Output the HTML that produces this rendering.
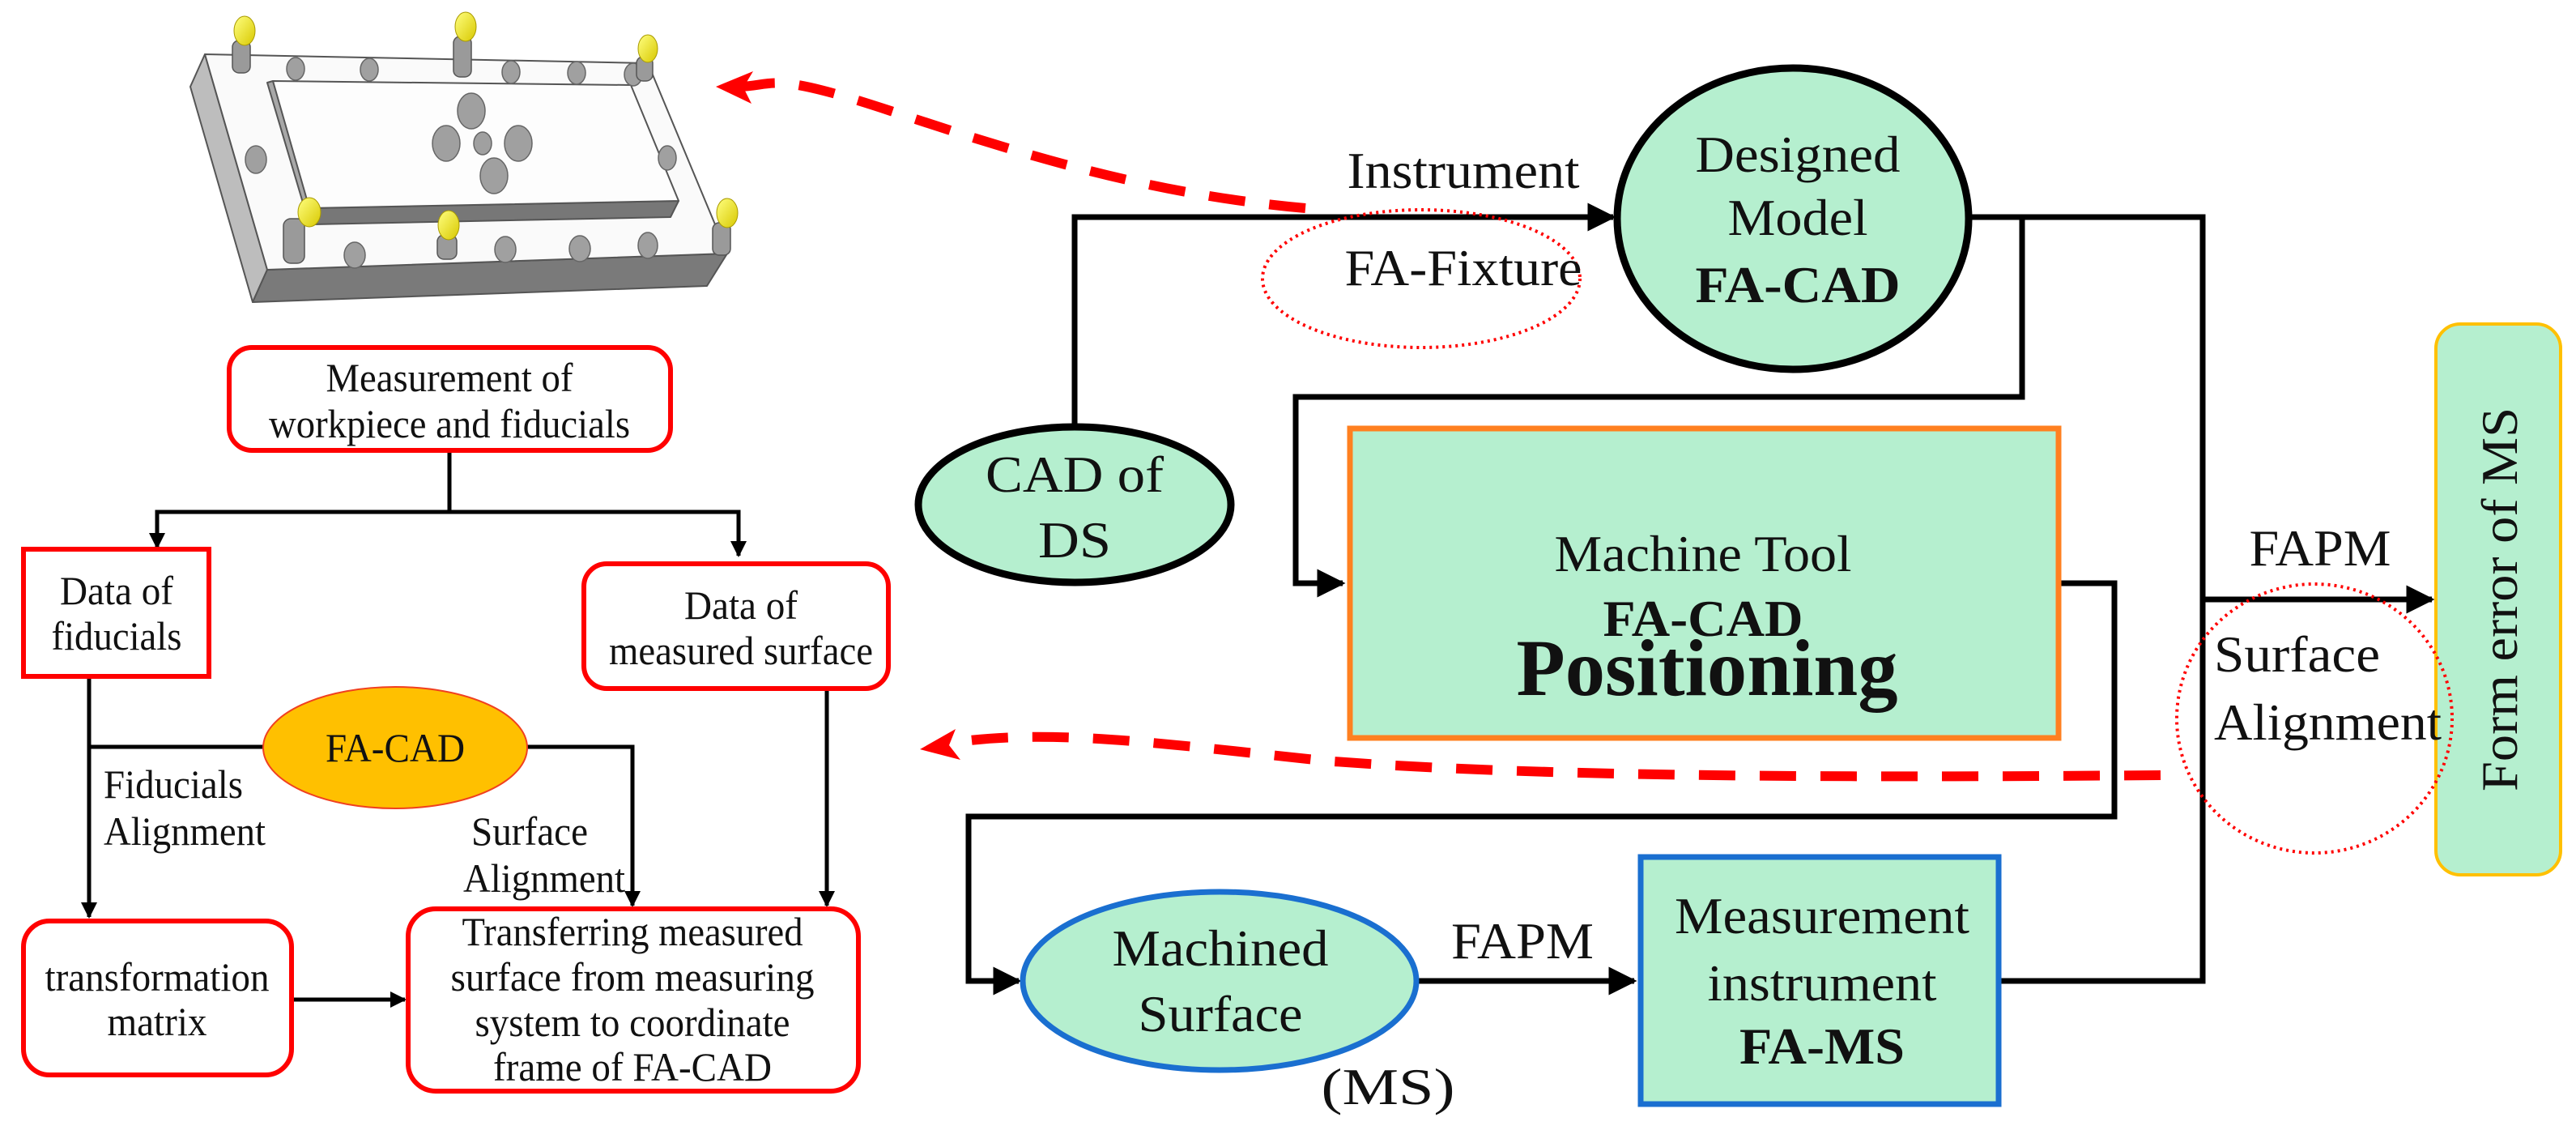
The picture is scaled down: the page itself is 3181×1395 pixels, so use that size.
<!DOCTYPE html>
<html><head><meta charset="utf-8"><style>
html,body{margin:0;padding:0;background:#fff;}
svg{display:block;}
text{font-family:"Liberation Serif",serif;fill:#111;}
</style></head><body>
<svg width="3181" height="1395" viewBox="0 0 3181 1395" xmlns="http://www.w3.org/2000/svg">
<defs>
<marker id="ah" viewBox="0 0 10 10" refX="9" refY="5" markerWidth="5" markerHeight="5" orient="auto" markerUnits="strokeWidth"><path d="M0,0 L10,5 L0,10 z" fill="#000"/></marker>
<marker id="ah2" viewBox="0 0 10 10" refX="9" refY="5" markerWidth="4" markerHeight="4" orient="auto" markerUnits="strokeWidth"><path d="M0,0 L10,5 L0,10 z" fill="#000"/></marker>
<linearGradient id="ball" x1="0" y1="0" x2="1" y2="1"><stop offset="0" stop-color="#ffff80"/><stop offset="1" stop-color="#d8c800"/></linearGradient>
</defs>

<!-- Fixture -->
<g stroke="#555" stroke-width="2" stroke-linejoin="round">
<polygon points="253,67 235,107 312,373 330,333" fill="#bdbdbd"/>
<polygon points="330,333 898,313 873,353 312,373" fill="#7a7a7a"/>
<polygon points="253,67 800,78 898,313 330,333" fill="#fafafa"/>
<polygon points="330,102 337,100 386,257 382,277" fill="#a8a8a8"/>
<polygon points="382,257 838,248 828,268 386,277" fill="#777"/>
<polygon points="337,100 779,105 838,248 382,257" fill="#fdfdfd"/>
</g>
<g fill="#a0a0a0" stroke="#666" stroke-width="1.5">
<ellipse cx="365" cy="85" rx="11" ry="14"/><ellipse cx="456" cy="86" rx="11" ry="14"/><ellipse cx="631" cy="89" rx="11" ry="14"/><ellipse cx="712" cy="90" rx="11" ry="14"/><ellipse cx="782" cy="92" rx="11" ry="14"/>
<ellipse cx="582" cy="137" rx="17" ry="22"/><ellipse cx="551" cy="177" rx="17" ry="22"/><ellipse cx="596" cy="177" rx="11" ry="14"/><ellipse cx="640" cy="177" rx="17" ry="22"/><ellipse cx="610" cy="217" rx="17" ry="22"/>
<ellipse cx="316" cy="197" rx="13" ry="17"/><ellipse cx="824" cy="195" rx="11" ry="15"/>
<ellipse cx="438" cy="315" rx="13" ry="16"/><ellipse cx="624" cy="308" rx="13" ry="16"/><ellipse cx="716" cy="307" rx="13" ry="16"/><ellipse cx="800" cy="303" rx="12" ry="16"/>
</g>
<g fill="#9a9a9a" stroke="#555" stroke-width="1.5">
<rect x="287" y="50" width="22" height="40" rx="8"/><rect x="560" y="45" width="22" height="50" rx="8"/><rect x="786" y="70" width="20" height="30" rx="8"/>
<rect x="350" y="270" width="26" height="55" rx="9"/><rect x="540" y="290" width="24" height="30" rx="8"/><rect x="880" y="275" width="22" height="40" rx="8"/>
</g>
<g fill="url(#ball)" stroke="#a99a00" stroke-width="1">
<ellipse cx="302" cy="38" rx="13" ry="18"/><ellipse cx="575" cy="33" rx="13" ry="18"/><ellipse cx="800" cy="60" rx="12" ry="17"/>
<ellipse cx="382" cy="262" rx="14" ry="18"/><ellipse cx="554" cy="278" rx="13" ry="18"/><ellipse cx="898" cy="263" rx="13" ry="18"/>
</g>

<!-- Left flowchart -->
<g fill="none" stroke="#000" stroke-width="5">
<line x1="555" y1="557" x2="555" y2="632"/>
<polyline points="194,676 194,632 912,632 912,686" marker-end="url(#ah2)"/>
<line x1="194" y1="632" x2="194" y2="676" marker-end="url(#ah2)"/>
<polyline points="110,836 110,1132" marker-end="url(#ah2)"/>
<line x1="110" y1="922" x2="325" y2="922"/>
<polyline points="651,922 781,922 781,1118" marker-end="url(#ah2)"/>
<polyline points="1021,851 1021,1118" marker-end="url(#ah2)"/>
<line x1="361" y1="1234" x2="500" y2="1234" marker-end="url(#ah2)"/>
</g>
<g fill="#fff" stroke="#ff0000" stroke-width="6">
<rect x="283" y="429" width="545" height="127" rx="28"/>
<rect x="29" y="678" width="229" height="157"/>
<rect x="721" y="696" width="376" height="154" rx="28"/>
<rect x="29" y="1137" width="331" height="190" rx="32"/>
<rect x="504" y="1122" width="556" height="225" rx="34"/>
</g>
<ellipse cx="488" cy="923" rx="163" ry="75" fill="#ffc000" stroke="#f04020" stroke-width="2"/>
<g font-size="50" text-anchor="middle">
<text x="555" y="483" textLength="305" lengthAdjust="spacingAndGlyphs">Measurement of</text>
<text x="555" y="540" textLength="446" lengthAdjust="spacingAndGlyphs">workpiece and fiducials</text>
<text x="144" y="746" textLength="140" lengthAdjust="spacingAndGlyphs">Data of</text>
<text x="144" y="802" textLength="161" lengthAdjust="spacingAndGlyphs">fiducials</text>
<text x="915" y="764" textLength="140" lengthAdjust="spacingAndGlyphs">Data of</text>
<text x="915" y="820" textLength="326" lengthAdjust="spacingAndGlyphs">measured surface</text>
<text x="488" y="940" textLength="172" lengthAdjust="spacingAndGlyphs">FA-CAD</text>
<text x="194" y="1223" textLength="277" lengthAdjust="spacingAndGlyphs">transformation</text>
<text x="194" y="1278" textLength="123" lengthAdjust="spacingAndGlyphs">matrix</text>
<text x="781" y="1167" textLength="421" lengthAdjust="spacingAndGlyphs">Transferring measured</text>
<text x="781" y="1223" textLength="449" lengthAdjust="spacingAndGlyphs">surface from measuring</text>
<text x="781" y="1279" textLength="389" lengthAdjust="spacingAndGlyphs">system to coordinate</text>
<text x="781" y="1334" textLength="344" lengthAdjust="spacingAndGlyphs">frame of FA-CAD</text>
</g>
<g font-size="50">
<text x="128" y="985" textLength="172" lengthAdjust="spacingAndGlyphs">Fiducials</text>
<text x="128" y="1043" textLength="200" lengthAdjust="spacingAndGlyphs">Alignment</text>
<text x="582" y="1043" textLength="144" lengthAdjust="spacingAndGlyphs">Surface</text>
<text x="572" y="1101" textLength="200" lengthAdjust="spacingAndGlyphs">Alignment</text>
</g>

<!-- Red dashed curves -->
<path d="M1612,257 C1420,240 1260,190 1100,137 S960,108 905,107" fill="none" stroke="#ff0000" stroke-width="12" stroke-dasharray="45,30"/>
<polygon points="884,107 930,88 918,108 928,128" fill="#ff0000"/>
<path d="M2668,957 C2300,960 1900,960 1634,939 C1450,920 1300,898 1175,917" fill="none" stroke="#ff0000" stroke-width="12" stroke-dasharray="45,30"/>
<polygon points="1136,925 1180,900 1172,920 1186,938" fill="#ff0000"/>

<!-- Right connectors -->
<g fill="none" stroke="#000" stroke-width="7">
<polyline points="1327,527 1327,268 1992,268" marker-end="url(#ah)"/>
<polyline points="2431,268 2720,268 2720,1211 2471,1211"/>
<polyline points="2497,268 2497,490 1600,490 1600,720 1658,720" marker-end="url(#ah)"/>
<polyline points="2545,720 2611,720 2611,1008 1196,1008 1196,1211 1258,1211" marker-end="url(#ah)"/>
<line x1="1750" y1="1211" x2="2018" y2="1211" marker-end="url(#ah)"/>
<line x1="2720" y1="740" x2="3003" y2="740" marker-end="url(#ah)"/>
</g>

<!-- Right nodes -->
<ellipse cx="2214" cy="270" rx="217" ry="186" fill="#b5efcf" stroke="#000" stroke-width="9"/>
<ellipse cx="1327" cy="623" rx="193" ry="96" fill="#b5efcf" stroke="#000" stroke-width="9"/>
<rect x="1667" y="529" width="875" height="382" fill="#b5efcf" stroke="#ff8020" stroke-width="7"/>
<ellipse cx="1506" cy="1211" rx="243" ry="110" fill="#b5efcf" stroke="#1a6fd0" stroke-width="7"/>
<rect x="2026" y="1058" width="442" height="305" fill="#b5efcf" stroke="#1a6fd0" stroke-width="7"/>
<rect x="3008" y="400" width="154" height="680" rx="30" fill="#b5efcf" stroke="#ffc000" stroke-width="4"/>

<ellipse cx="1755" cy="344" rx="196" ry="85" fill="none" stroke="#ff0000" stroke-width="4" stroke-dasharray="3,5"/>
<ellipse cx="2858" cy="887" rx="170" ry="166" fill="none" stroke="#ff0000" stroke-width="4" stroke-dasharray="3,5"/>

<g font-size="64" text-anchor="middle">
<text x="1807" y="232" textLength="287" lengthAdjust="spacingAndGlyphs">Instrument</text>
<text x="1807" y="352" textLength="293" lengthAdjust="spacingAndGlyphs">FA-Fixture</text>
<text x="2220" y="212" textLength="253" lengthAdjust="spacingAndGlyphs">Designed</text>
<text x="2220" y="290" textLength="173" lengthAdjust="spacingAndGlyphs">Model</text>
<text x="2220" y="373" font-weight="bold" textLength="253" lengthAdjust="spacingAndGlyphs">FA-CAD</text>
<text x="1327" y="607" textLength="220" lengthAdjust="spacingAndGlyphs">CAD of</text>
<text x="1327" y="688" textLength="90" lengthAdjust="spacingAndGlyphs">DS</text>
<text x="2103" y="705" textLength="367" lengthAdjust="spacingAndGlyphs">Machine Tool</text>
<text x="2103" y="785" font-weight="bold" textLength="247" lengthAdjust="spacingAndGlyphs">FA-CAD</text>
<text x="2108" y="858" font-size="100" font-weight="bold" textLength="471" lengthAdjust="spacingAndGlyphs">Positioning</text>
<text x="1507" y="1192" textLength="267" lengthAdjust="spacingAndGlyphs">Machined</text>
<text x="1507" y="1273" textLength="203" lengthAdjust="spacingAndGlyphs">Surface</text>
<text x="1714" y="1363" textLength="165" lengthAdjust="spacingAndGlyphs">(MS)</text>
<text x="1880" y="1183" textLength="176" lengthAdjust="spacingAndGlyphs">FAPM</text>
<text x="2250" y="1152" textLength="364" lengthAdjust="spacingAndGlyphs">Measurement</text>
<text x="2250" y="1235" textLength="283" lengthAdjust="spacingAndGlyphs">instrument</text>
<text x="2250" y="1313" font-weight="bold" textLength="204" lengthAdjust="spacingAndGlyphs">FA-MS</text>
<text x="2865" y="698" textLength="175" lengthAdjust="spacingAndGlyphs">FAPM</text>
</g>
<g font-size="64">
<text x="2734" y="829" textLength="205" lengthAdjust="spacingAndGlyphs">Surface</text>
<text x="2734" y="913" textLength="281" lengthAdjust="spacingAndGlyphs">Alignment</text>
</g>
<text transform="translate(3108,740) rotate(-90)" font-size="64" text-anchor="middle" textLength="474" lengthAdjust="spacingAndGlyphs">Form error of MS</text>
</svg>
</body></html>
